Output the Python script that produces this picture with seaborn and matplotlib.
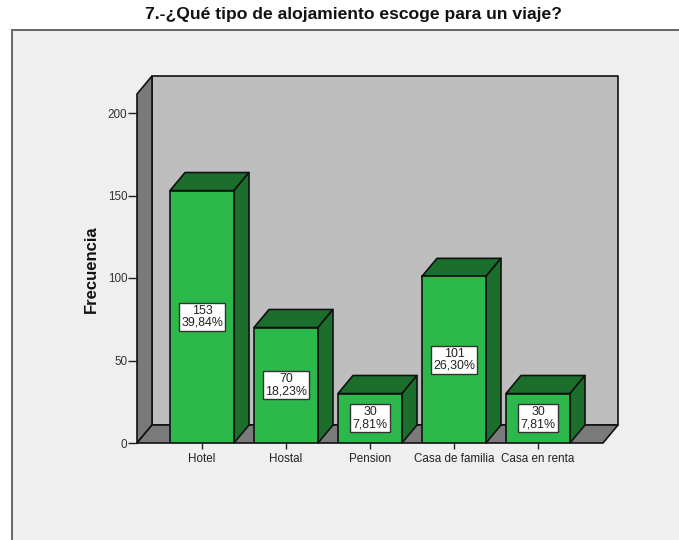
import matplotlib
matplotlib.use('Agg')
import matplotlib.pyplot as plt
from matplotlib.patches import Polygon, Rectangle
import pandas as pd
import seaborn as sns

# Data
categories = ['Hotel', 'Hostal', 'Pension', 'Casa de familia', 'Casa en renta']
counts = [153, 70, 30, 101, 30]
percents = ['39,84%', '18,23%', '7,81%', '26,30%', '7,81%']
y_ticks = [0, 50, 100, 150, 200]

GREEN = '#2DB84B'
DARK = '#1C6E2D'
WALL = '#BEBEBE'
SIDE = '#7A7A7A'
PANEL = '#EFEFEF'
EDGE = '#111111'

sns.set_theme(style='white')
plt.rcParams['font.family'] = ['Liberation Sans', 'DejaVu Sans']

W, H = 679, 540
fig = plt.figure(figsize=(W / 100, H / 100), dpi=100, facecolor='white')

# grey chart panel, runs off the right and bottom edges of the image
fig.add_artist(Rectangle((12 / W, -20 / H), 700 / W, (H - 10) / H, transform=fig.transFigure,
                         facecolor=PANEL, edgecolor='#666666', linewidth=1.4, zorder=-1))

# axes spans front-left corner of floor to back-right top of wall
ax = fig.add_axes([137 / W, (H - 443) / H, (618 - 137) / W, (443 - 76) / H])
ax.patch.set_alpha(0)

df = pd.DataFrame({'categoria': categories, 'frecuencia': counts})
sns.barplot(data=df, x='categoria', y='frecuencia', color=GREEN, saturation=1,
            width=64 / 84, edgecolor=EDGE, linewidth=1.2, ax=ax, zorder=5)

ax.set_xlim((137 - 202) / 84, (618 - 202) / 84)
ax.set_ylim(0, (443 - 76) / 1.65)

# 3D depth in data units
dx = 15 / 84
dy = 18 / 1.65
x0, x1 = ax.get_xlim()
top = ax.get_ylim()[1]
x_front_right = x1 - dx
kw = dict(edgecolor=EDGE, linewidth=1.2, clip_on=False, joinstyle='round')

# back wall, left wall, floor
ax.add_patch(Polygon([(x0 + dx, dy), (x1, dy), (x1, top), (x0 + dx, top)], facecolor=WALL, zorder=1, **kw))
ax.add_patch(Polygon([(x0, 0), (x0 + dx, dy), (x0 + dx, top), (x0, top - dy)], facecolor=SIDE, zorder=1, **kw))
ax.add_patch(Polygon([(x0, 0), (x_front_right, 0), (x1, dy), (x0 + dx, dy)], facecolor=SIDE, zorder=1, **kw))

# bar tops, sides and value boxes
half = 32 / 84
for i, (c, p) in enumerate(zip(counts, percents)):
    ax.add_patch(Polygon([(i - half, c), (i + half, c), (i + half + dx, c + dy), (i - half + dx, c + dy)],
                         facecolor=DARK, zorder=4, **kw))
    ax.add_patch(Polygon([(i + half, 0), (i + half + dx, dy), (i + half + dx, c + dy), (i + half, c)],
                         facecolor=DARK, zorder=4, **kw))
    ax.text(i, c / 2, f'{c}\n{p}', ha='center', va='center', fontsize=8.9, color='#222222',
            linespacing=0.95, zorder=7,
            bbox=dict(boxstyle='square,pad=0.18', facecolor='white', edgecolor='#333333', linewidth=1))

sns.despine(ax=ax, left=True, bottom=True, top=True, right=True)
ax.set_yticks(y_ticks)
ax.set_xticks(range(len(categories)))
ax.set_xticklabels(categories)
ax.tick_params(axis='y', left=True, length=6.5, width=1, color='#222222', labelsize=8.4, labelcolor='#333333', pad=0.5)
ax.tick_params(axis='x', bottom=True, length=4.5, width=1, color='#222222', labelsize=8.4, labelcolor='#222222', pad=3)
ax.set_xlabel('')
ax.set_ylabel('')

fig.text(91 / W, (H - 269) / H, 'Frecuencia', rotation=90, ha='center', va='center',
         fontsize=12, fontweight='bold', color='#111111')
fig.text(353 / W, (H - 14) / H, '7.-¿Qué tipo de alojamiento escoge para un viaje?', ha='center', va='center',
         fontsize=12.6, fontweight='bold', color='#111111')

fig.savefig('out.png', dpi=100)
